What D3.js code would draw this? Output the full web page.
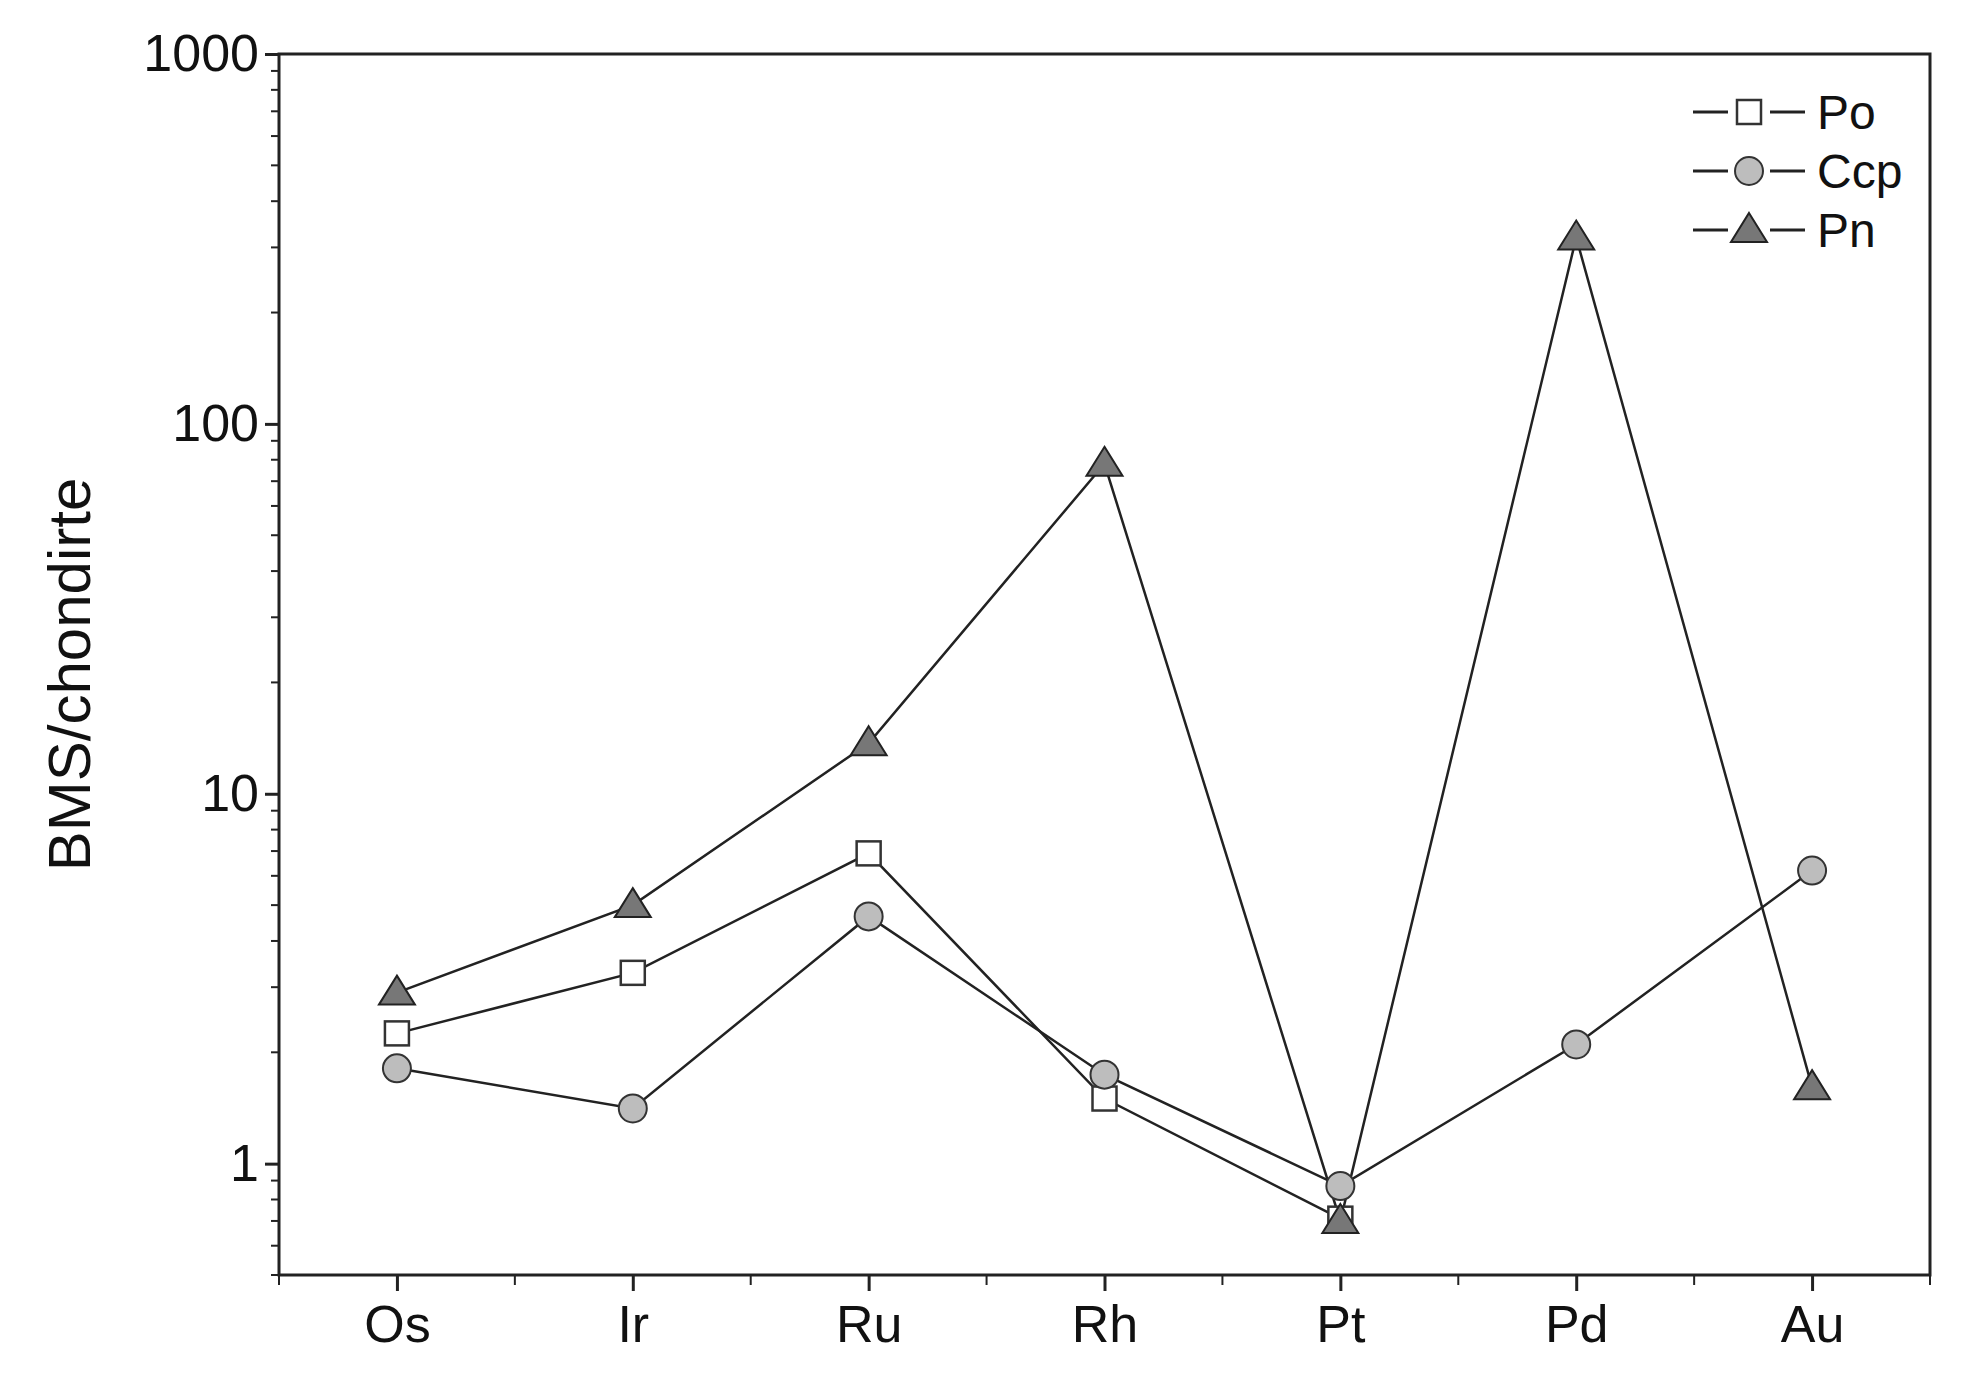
<!DOCTYPE html>
<html>
<head>
<meta charset="utf-8">
<script src="https://cdn.jsdelivr.net/npm/d3@7"></script>
<style>
  body { margin: 0; background: #fff; }
  text { font-family: "Liberation Sans", Arial, sans-serif; fill: #111; }
</style>
</head>
<body>
<div class="canvas"></div>
<script>
// data
const elements = ['Os', 'Ir', 'Ru', 'Rh', 'Pt', 'Pd', 'Au']
const poValues = [2.25, 3.28, 6.9, 1.5, 0.71]
const ccpValues = [1.81, 1.41, 4.66, 1.74, 0.87, 2.1, 6.2]
const pnValues = [2.9, 5.0, 13.7, 78, 0.70, 319, 1.61]
const yTicks = [1, 10, 100, 1000]

const W = 1963, H = 1391
const margin = {top: 54, right: 33, bottom: 116, left: 279}

const svg = d3.select('.canvas').append('svg')
    .attr('width', W).attr('height', H)

const x = d3.scaleLinear()
    .domain([-0.5, elements.length - 0.5])
    .range([margin.left, W - margin.right])

const y = d3.scaleLog()
    .domain([0.5, 1000])
    .range([H - margin.bottom, margin.top])

//frame
svg.append('rect')
    .attr('x', margin.left).attr('y', margin.top)
    .attr('width', W - margin.left - margin.right)
    .attr('height', H - margin.top - margin.bottom)
    .attr('fill', 'none').attr('stroke', '#222').attr('stroke-width', 3)

//y axis
const minorY = []
for (let d = 0.1; d < 1000; d *= 10) {
    for (let k = 2; k <= 9; k++) {
        const v = k * d
        if (v >= 0.5 && v < 1000 && !yTicks.includes(v)) minorY.push(v)
    }
}
const yAxis = svg.append('g')
    .attr('transform', `translate(${margin.left},0)`)
    .call(d3.axisLeft(y).tickValues(yTicks).tickFormat(d3.format('d')).tickSize(14).tickPadding(6))
yAxis.select('.domain').remove()
yAxis.selectAll('line').attr('stroke-width', 3).attr('stroke', '#222')
yAxis.selectAll('text').style('font-size', '52px').style('font-family', '"Liberation Sans", Arial, sans-serif')

svg.append('g').selectAll('line').data(minorY).enter().append('line')
    .attr('x1', margin.left - 8).attr('x2', margin.left)
    .attr('y1', d => y(d)).attr('y2', d => y(d))
    .attr('stroke', '#222').attr('stroke-width', 2)

//x axis
const xAxis = svg.append('g')
    .attr('transform', `translate(0,${H - margin.bottom})`)
    .call(d3.axisBottom(x).tickValues(d3.range(elements.length))
        .tickFormat(i => elements[i]).tickSize(16).tickPadding(14))
xAxis.select('.domain').remove()
xAxis.selectAll('line').attr('stroke-width', 3).attr('stroke', '#222')
xAxis.selectAll('text').style('font-size', '52px').style('font-family', '"Liberation Sans", Arial, sans-serif')

const minorX = d3.range(-0.5, elements.length, 1)
svg.append('g').selectAll('line').data(minorX).enter().append('line')
    .attr('x1', d => x(d)).attr('x2', d => x(d))
    .attr('y1', H - margin.bottom).attr('y2', H - margin.bottom + 10)
    .attr('stroke', '#222').attr('stroke-width', 2)

//y title
svg.append('text')
    .attr('transform', `translate(90,${(margin.top + H - margin.bottom) / 2 + 10}) rotate(-90)`)
    .attr('text-anchor', 'middle')
    .style('font-size', '60px')
    .text('BMS/chondirte')

const line = d3.line().x((d, i) => x(i)).y(d => y(d))

const series = [
    {name: 'Po', values: poValues, shape: 'square', fill: '#fff'},
    {name: 'Ccp', values: ccpValues, shape: 'circle', fill: '#bdbdbd'},
    {name: 'Pn', values: pnValues, shape: 'triangle', fill: '#777'}
]

const marker = (g, s, cx, cy) => {
    if (s.shape === 'square') {
        g.append('rect').attr('x', cx - 12).attr('y', cy - 12).attr('width', 24).attr('height', 24)
            .attr('fill', s.fill).attr('stroke', '#333').attr('stroke-width', 2.5)
    } else if (s.shape === 'circle') {
        g.append('circle').attr('cx', cx).attr('cy', cy).attr('r', 14)
            .attr('fill', s.fill).attr('stroke', '#333').attr('stroke-width', 2)
    } else {
        g.append('path').attr('d', `M${cx},${cy - 17}L${cx + 18},${cy + 12}L${cx - 18},${cy + 12}Z`)
            .attr('fill', s.fill).attr('stroke', '#222').attr('stroke-width', 2)
    }
}

series.forEach(s => {
    svg.append('path').datum(s.values)
        .attr('d', line).attr('fill', 'none').attr('stroke', '#222').attr('stroke-width', 2.5)
})
series.forEach(s => {
    const g = svg.append('g')
    s.values.forEach((v, i) => marker(g, s, x(i), y(v)))
})

//legend
series.forEach((s, i) => {
    const ly = 112 + i * 59
    const g = svg.append('g')
    g.append('line').attr('x1', 1693).attr('x2', 1728).attr('y1', ly).attr('y2', ly)
        .attr('stroke', '#222').attr('stroke-width', 3)
    g.append('line').attr('x1', 1770).attr('x2', 1805).attr('y1', ly).attr('y2', ly)
        .attr('stroke', '#222').attr('stroke-width', 3)
    marker(g, s, 1749, ly)
    g.append('text').attr('x', 1817).attr('y', ly + 17).style('font-size', '48px').text(s.name)
})
</script>
</body>
</html>
